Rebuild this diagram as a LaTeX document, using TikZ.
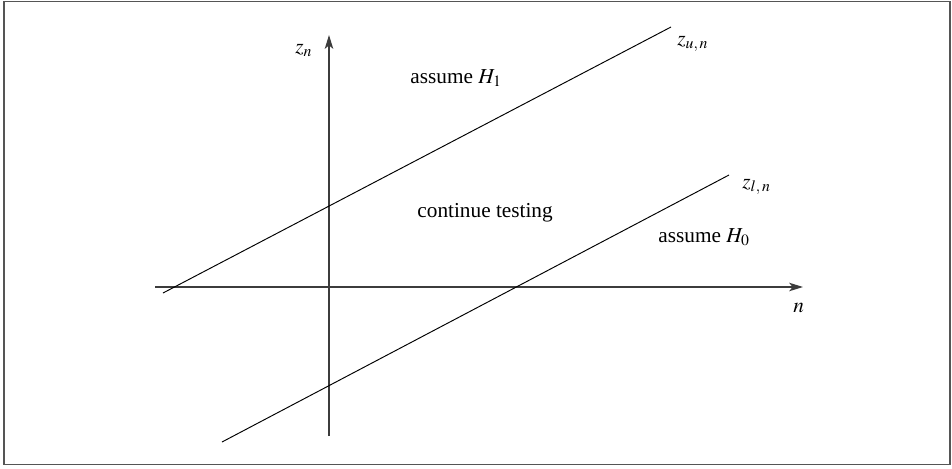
\documentclass[tikz,border=0pt]{standalone}
\usepackage{mathptmx}
\usepackage{fontspec}
\setmainfont{Liberation Serif}
\usepackage{xcolor}
\usepackage{tikz}
\usetikzlibrary{arrows.meta}
\definecolor{axisgray}{RGB}{60,60,60}
\definecolor{framegray}{RGB}{85,85,85}
\tikzset{
  axis/.style   = {draw=axisgray, line width=0.6pt, -{Stealth[length=6.5pt, width=4pt, inset=1.6pt]}},
  bound/.style  = {draw=black, line width=0.45pt},
  lbl/.style    = {anchor=base west, inner sep=0pt, font=\normalsize},
}

\begin{document}
\begin{tikzpicture}[x=0.47pt, y=-0.47pt]
  \useasboundingbox (0,0) rectangle (952,468);
  \draw[draw=framegray, line width=0.8pt] (4,1.5) rectangle (950,464.5);
  % axes
  \coordinate (nstart) at (155,287);
  \coordinate (ntip)   at (803,287);
  \coordinate (zbot)   at (329,436);
  \coordinate (ztip)   at (329,35);
  \draw[axis] (nstart) -- (ntip);
  \draw[axis] (zbot) -- (ztip);
  % thresholds
  \coordinate (up0) at (163,293);
  \coordinate (up1) at (671,27);
  \coordinate (lo0) at (222,442);
  \coordinate (lo1) at (729,175);
  \draw[bound] (up0) -- (up1);
  \draw[bound] (lo0) -- (lo1);
  % labels
  \node[lbl] (zn)   at (295,53)  {$z_n$};
  \node[lbl] (n)    at (793,312) {$n$};
  \node[lbl] (zu)   at (677,45)  {$z_{u,\,n}$};
  \node[lbl] (zl)   at (742,188) {$z_{l,\,n}$};
  \node[lbl] (hone) at (410,83)  {assume $H_1$};
  \node[lbl] (cont) at (417,217) {continue testing};
  \node[lbl] (hzero) at (658,242) {assume $H_0$};
\end{tikzpicture}
\end{document}
